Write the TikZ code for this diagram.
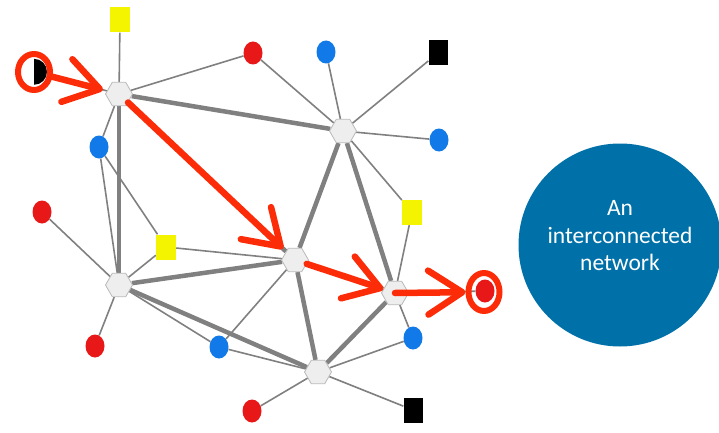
\documentclass[tikz,border=0pt]{standalone}
\usepackage{fontspec}
\setsansfont{Carlito}
\usetikzlibrary{shapes.geometric,arrows.meta,backgrounds}
\definecolor{hubfill}{RGB}{238,238,238}
\definecolor{hubline}{RGB}{185,185,185}
\definecolor{edgegray}{RGB}{128,128,128}
\definecolor{leafred}{RGB}{232,24,24}
\definecolor{leafblue}{RGB}{18,122,232}
\definecolor{leafyellow}{RGB}{244,244,0}
\definecolor{arrred}{RGB}{252,44,8}
\definecolor{netblue}{RGB}{0,112,168}
\tikzset{
	hub/.style={regular polygon, regular polygon sides=6, minimum size=27pt, inner sep=0pt, fill=hubfill, draw=hubline, line width=0.8pt},
	redleaf/.style={ellipse, minimum width=19pt, minimum height=23pt, inner sep=0pt, fill=leafred},
	blueleaf/.style={ellipse, minimum width=19pt, minimum height=23pt, inner sep=0pt, fill=leafblue},
	yellowleaf/.style={rectangle, minimum width=20pt, minimum height=25pt, inner sep=0pt, fill=leafyellow},
	blackleaf/.style={rectangle, minimum width=19pt, minimum height=25pt, inner sep=0pt, fill=black},
	link/.style={draw=edgegray, line width=4.5pt},
	wire/.style={draw=edgegray, line width=1.6pt},
	ring/.style={ellipse, draw=arrred, line width=6pt, minimum width=32pt, minimum height=36pt, inner sep=0pt},
	redpath/.style={draw=arrred, line width=6.5pt, line cap=round, -{Straight Barb[length=34pt,width=44pt,round]}}
}

\begin{document}
\begin{tikzpicture}[x=1pt,y=-1pt]
		\useasboundingbox (0,0) rectangle (719,433);
		
		\node[hub] (h1) at (119,94) {};
		\node[hub] (h2) at (343,131) {};
		\node[hub] (h3) at (295,260) {};
		\node[hub] (h4) at (119,285) {};
		\node[hub] (h5) at (395,293) {};
		\node[hub] (h6) at (318,372) {};
		
		\node[yellowleaf] (y1) at (120,20) {};
		\node[yellowleaf] (y2) at (166,247) {};
		\node[yellowleaf] (y3) at (412,212) {};
		\node[redleaf] (r1) at (253,53) {};
		\node[redleaf] (r2) at (42,212) {};
		\node[redleaf] (r3) at (485,291) {};
		\node[redleaf] (r4) at (95,346) {};
		\node[redleaf] (r5) at (252,411) {};
		\node[blueleaf] (b1) at (326,52) {};
		\node[blueleaf] (b2) at (439,140) {};
		\node[blueleaf] (b3) at (99,147) {};
		\node[blueleaf] (b4) at (219,347) {};
		\node[blueleaf] (b5) at (413,338) {};
		\node[blackleaf] (k1) at (438,53) {};
		\node[blackleaf] (k2) at (413,410) {};
		\node[ellipse, minimum width=26pt, minimum height=26pt, inner sep=0pt] (blk) at (34,72) {};
		\fill[black] (blk.north) arc[start angle=90, end angle=-90, x radius=13pt, y radius=13pt] -- cycle;
		
		\begin{scope}[on background layer]
			\foreach \a/\b in {h1/h2, h1/h4, h1/h3, h2/h3, h2/h5, h3/h4, h3/h5, h3/h6, h4/h6, h5/h6}
				\draw[link] (\a) -- (\b);
			\foreach \a/\b in {h1/y1, h1/r1, h1/b3, h1/blk, h2/r1, h2/b1, h2/k1, h2/b2, h2/y3, b3/h4, b3/y2, r2/h4, y2/h4, y2/h3, h4/r4, h4/b4, b4/h6, b4/h3, h6/r5, h6/k2, h6/b5, h5/y3, h5/b5, h5/r3}
				\draw[wire] (\a) -- (\b);
		\end{scope}
		
		\node[ring] (ringA) at (34,72) {};
		\node[ring, minimum width=31pt, minimum height=38pt] (ringB) at (484,292) {};
		
		\draw[redpath, shorten >=4pt] (ringA) -- (h1);
		\draw[redpath, shorten >=4pt] (h1) -- (h3);
		\draw[redpath] (h3) -- (h5);
		\draw[redpath] (h5.center) -- (ringB);
		
		\node[circle, fill=netblue, minimum size=203pt, inner sep=0pt] (net) at (620,245) {};
		\node[align=center, text=white, font=\sffamily\fontsize{23.5}{27.5}\selectfont] (label) at (620,236) {An\\interconnected\\network};
		
	\end{tikzpicture}
\end{document}
